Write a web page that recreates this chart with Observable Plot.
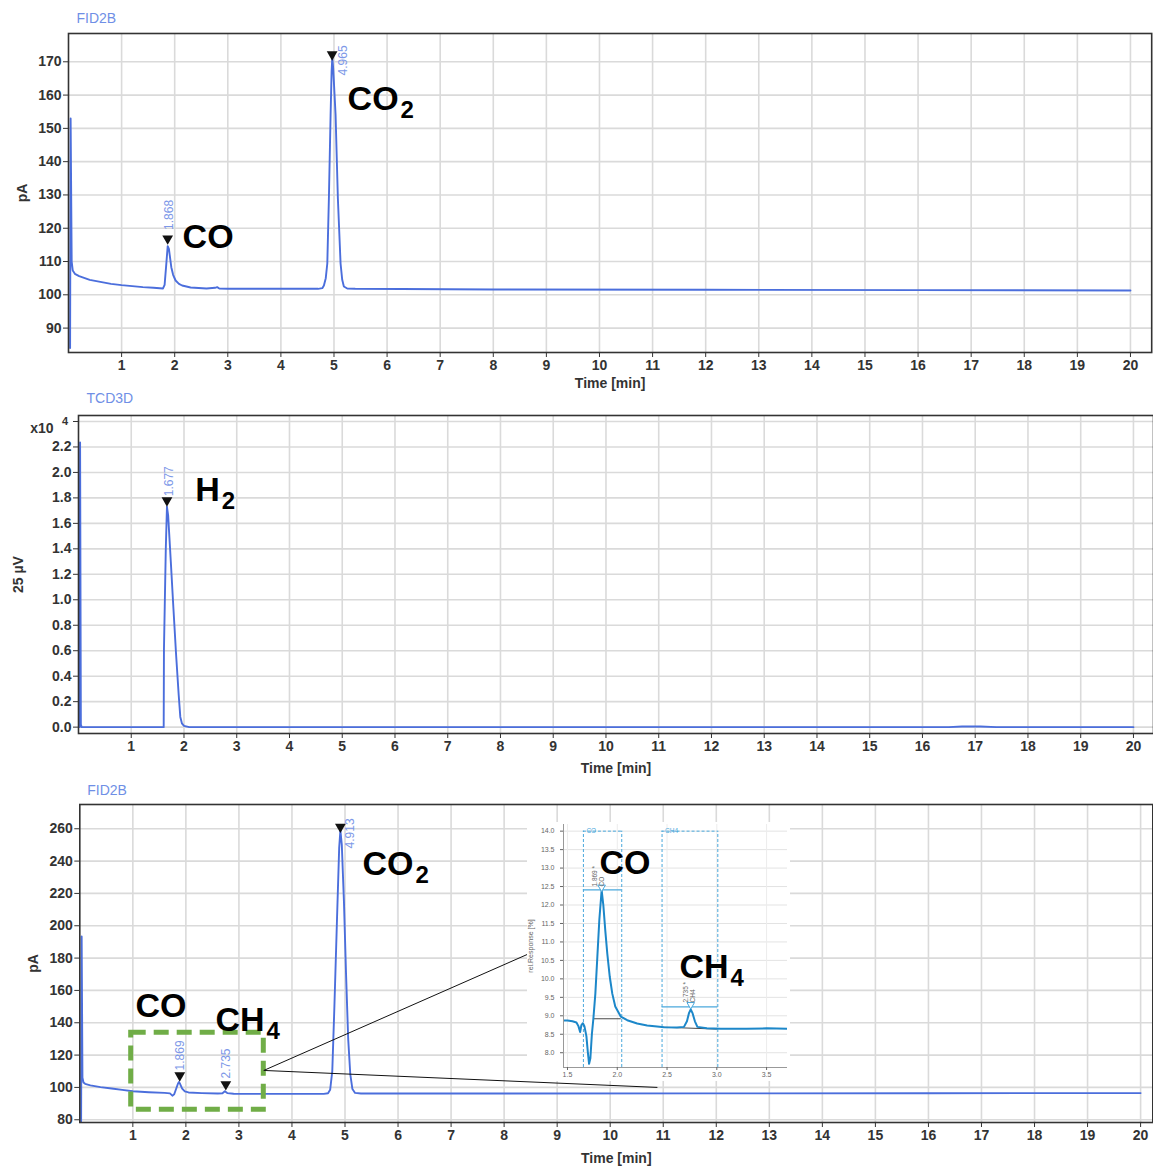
<!DOCTYPE html>
<html>
<head>
<meta charset="utf-8">
<script src="https://cdn.jsdelivr.net/npm/d3@7"></script>
<script src="https://cdn.jsdelivr.net/npm/@observablehq/plot@0.6"></script>
<style>
  body { margin: 0; background: #fff; }
  #wrap { position: relative; width: 1153px; height: 1166px; background: #fff; overflow: hidden;
          font-family: "Liberation Sans", Arial, sans-serif; }
  .panel { position: absolute; left: 0; overflow: hidden; }
  .panel svg { display: block; }
</style>
</head>
<body>
<div id="wrap"></div>
<script>
// ---------------- DATA ----------------
// common time ticks (min)
const timeTicks = [1,2,3,4,5,6,7,8,9,10,11,12,13,14,15,16,17,18,19,20];

// Panel 1 : FID2B (first run)
const fid1Ticks = [90,100,110,120,130,140,150,160,170];
const fid1Time   = [0.03,0.04,0.06,0.08,0.12,0.2,0.4,0.6,0.8,1.0,1.2,1.4,1.6,1.78,1.81,1.842,1.868,1.891,1.936,1.97,2.017,2.08,2.14,2.3,2.6,2.76,2.8,2.84,3.0,4.0,4.7,4.78,4.81,4.845,4.874,4.904,4.936,4.955,4.968,4.985,5.03,5.073,5.124,5.155,5.186,5.25,5.4,8,12,16,20];
const fid1Signal = [84,153,110,107.3,106.3,105.6,104.5,103.9,103.3,102.9,102.6,102.3,102.1,101.9,103,109.3,114.6,113.8,108.3,106,104.3,103.3,102.8,102.2,101.9,102.1,102.3,101.9,101.8,101.8,101.8,102,102.8,105,109.4,129,154,167,171.3,168,154,129,109.4,104.5,102.5,101.9,101.8,101.6,101.5,101.4,101.3];
const fid1PeakTimes  = [1.868, 4.965];
const fid1PeakTops   = [116.9, 172.2];
const fid1PeakLabels = ["1.868", "4.965"];
const fid1LabelX     = [1.904, 5.181];
const fid1LabelY     = [119.5, 165.9];
const fid1Names = ["CO", "CO"];
const fid1Subs  = ["", "2"];
const fid1NameX = [2.149, 5.256];
const fid1NameY = [114.2, 155.4];

// Panel 2 : TCD3D (x10^4, 25 µV)
const tcdTicks = [0,0.2,0.4,0.6,0.8,1.0,1.2,1.4,1.6,1.8,2.0,2.2,2.4];
const tcdTime   = [0.02,0.03,0.045,0.06,1.0,1.615,1.62,1.635,1.655,1.677,1.70,1.75,1.80,1.85,1.90,1.93,1.96,2.0,2.1,16.5,16.75,17.1,17.4,20];
const tcdSignal = [0,2.235,0.02,0,0,0,0.61,0.95,1.4,1.73,1.66,1.30,0.93,0.57,0.25,0.08,0.03,0.01,0,0,0.005,0.005,0,0];
const tcdPeakTimes  = [1.677];
const tcdPeakTops   = [1.78];
const tcdPeakLabels = ["1.677"];
const tcdLabelX     = [1.725];
const tcdLabelY     = [1.813];
const tcdNames = ["H"];
const tcdSubs  = ["2"];
const tcdNameX = [2.213];
const tcdNameY = [1.773];

// Panel 3 : FID2B (second run)
const fid2Ticks = [80,100,120,140,160,180,200,220,240,260];
const fid2Time   = [0.025,0.035,0.05,0.07,0.1,0.2,0.39,0.6,0.8,1.0,1.3,1.6,1.7,1.745,1.78,1.82,1.85,1.869,1.89,1.93,1.98,2.05,2.3,2.6,2.69,2.735,2.78,2.9,3.2,4.6,4.68,4.72,4.76,4.80,4.85,4.89,4.913,4.94,4.98,5.02,5.06,5.10,5.14,5.19,5.3,8,12,16,20];
const fid2Signal = [79,193.4,106,103,102.2,101.3,100.2,99.3,98.5,97.6,97.0,96.6,96.3,94.9,95.8,99.5,102.3,103.3,102.2,99.3,97.6,96.9,96.5,96.2,96.4,97.6,96.5,96.1,96.0,96.0,96.4,98.5,110,150,205,248,259,250,215,170,130,108,99,96.6,96.2,96.2,96.3,96.4,96.5];
const fid2PeakTimes  = [1.885, 2.753, 4.913];
const fid2PeakTops   = [107.4, 101.9, 261.2];
const fid2PeakLabels = ["1.869", "2.735", "4.913"];
const fid2LabelX     = [1.899, 2.766, 5.104];
const fid2LabelY     = [110.5, 105.5, 247.8];
const fid2Names = ["CO", "CH", "CO"];
const fid2Subs  = ["", "4", "2"];
const fid2NameX = [1.05, 2.558, 5.33];
const fid2NameY = [143.3, 135.2, 231.7];
// zoom box and connector lines (panel 3 data units)
const zoomBoxX = [0.969, 3.469];
const zoomBoxY = [86.2, 133.8];
const zoomLinkFromX = [3.469, 3.469];
const zoomLinkFromY = [110.5, 110.5];
const zoomLinkToX   = [8.44, 10.89];
const zoomLinkToY   = [182.3, 100.0];

// Inset : rel. Response [%]
const insetXTicks = [1.5,2.0,2.5,3.0,3.5];
const insetYTicks = [8.0,8.5,9.0,9.5,10.0,10.5,11.0,11.5,12.0,12.5,13.0,13.5,14.0];
const insetTime = [1.46,1.50,1.55,1.59,1.61,1.627,1.64,1.655,1.67,1.69,1.705,1.717,1.73,1.745,1.76,1.78,1.80,1.82,1.843,1.86,1.88,1.90,1.925,1.95,1.98,2.035,2.1,2.2,2.3,2.4,2.47,2.6,2.67,2.70,2.72,2.738,2.755,2.78,2.805,2.9,3.04,3.3,3.5,3.71];
const insetResponse = [8.87,8.87,8.85,8.82,8.72,8.56,8.75,8.80,8.72,8.45,8.0,7.70,7.85,8.5,8.92,9.6,10.6,11.6,12.40,12.0,11.3,10.68,10.05,9.6,9.25,8.98,8.88,8.79,8.74,8.71,8.69,8.68,8.70,8.85,9.07,9.17,9.08,8.85,8.70,8.66,8.65,8.65,8.66,8.65];
const insetRegionNames = ["CO", "CH4"];
const insetRegionStart = [1.66, 2.45];
const insetRegionEnd   = [2.045, 3.01];
const insetRegionLevel = [12.41, 9.24];
const insetRegionTop   = 14.0;
const insetPeakTimes  = [1.843, 2.738];
const insetPeakTops   = [12.48, 9.30];
const insetPeakLabels = ["1.869 *\nCO", "2.735 *\nCH4"];
const insetLabelX = [1.811, 2.725];
const insetLabelY = [12.50, 9.36];
const insetBaseX1 = [1.76, 2.47];
const insetBaseY1 = [8.92, 8.69];
const insetBaseX2 = [2.035, 3.0];
const insetBaseY2 = [8.92, 8.64];
const insetNames = ["CO", "CH"];
const insetSubs  = ["", "4"];
const insetNameX = [1.821, 2.625];
const insetNameY = [12.85, 10.01];

// ---------------- HELPERS ----------------
const BLUE = "#4b6edc";
const RT_BLUE = "#7d98e8";
const TITLE_BLUE = "#6f8fe6";
const CYAN = "#1c87c9";
const CYAN_D = "#4aa8dc";
const GRID = "#dadada";
const FONT = "'Liberation Sans', Arial, sans-serif";

const ctx = document.createElement("canvas").getContext("2d");
function textWidth(s, font) { ctx.font = font; return ctx.measureText(s).width; }

function series(ts, vs) { return ts.map((t, i) => ({t, v: vs[i]})); }

function compoundMarks(names, subs, xs, ys) {
  const marks = [];
  names.forEach((name, i) => {
    const d = {t: xs[i], v: ys[i], name, sub: subs[i]};
    marks.push(Plot.text([d], {x: "t", y: "v", text: "name", textAnchor: "start", lineAnchor: "bottom",
      fontSize: 34, fontWeight: "bold", fill: "#000", fontFamily: FONT}));
    if (d.sub) {
      marks.push(Plot.text([d], {x: "t", y: "v", text: "sub", textAnchor: "start", lineAnchor: "bottom",
        fontSize: 24, fontWeight: "bold", fill: "#000", fontFamily: FONT,
        dx: textWidth(name, "bold 34px 'Liberation Sans'") + 2, dy: 8}));
    }
  });
  return marks;
}

function peakMarks(times, tops, labels, lx, ly, opts = {}) {
  const peaks = times.map((t, i) => ({t, v: tops[i]}));
  const labs = labels.map((s, i) => ({t: lx[i], v: ly[i], s}));
  return [
    Plot.dot(peaks, {x: "t", y: "v", symbol: "triangle", rotate: 180, r: opts.r ?? 4,
      fill: opts.fill ?? "#111", stroke: opts.stroke ?? "none", strokeWidth: 1}),
    Plot.text(labs, {x: "t", y: "v", text: "s", rotate: -90, textAnchor: "start", lineAnchor: "middle",
      fontSize: opts.fontSize ?? 12, fill: opts.color ?? RT_BLUE, fontFamily: FONT})
  ];
}

function titleMark(txt, dx, dy) {
  return Plot.text([txt], {frameAnchor: "top-left", text: d => d, dx, dy, textAnchor: "start",
    lineAnchor: "middle", fontSize: 14, fill: TITLE_BLUE, fontFamily: FONT});
}

const baseStyle = {fontFamily: FONT, fontSize: "14px", color: "#333", background: "transparent"};

function addPanel(node, top, height, extraStyle = "") {
  const div = document.createElement("div");
  div.className = "panel";
  div.style.top = top + "px";
  div.style.height = height + "px";
  div.style.cssText += extraStyle;
  div.appendChild(node);
  document.getElementById("wrap").appendChild(div);
  return div;
}

// ---------------- PANEL 1 ----------------
const p1 = Plot.plot({
  width: 1153, height: 392,
  marginTop: 33, marginBottom: 40, marginLeft: 68, marginRight: 1.8,
  x: {domain: [0, 20.4]},
  y: {domain: [82.67, 178.5]},
  style: baseStyle,
  marks: [
    Plot.gridX({ticks: timeTicks, stroke: GRID, strokeOpacity: 1, strokeWidth: 1.6}),
    Plot.gridY({ticks: fid1Ticks, stroke: GRID, strokeOpacity: 1, strokeWidth: 1.6}),
    Plot.line(series(fid1Time, fid1Signal), {x: "t", y: "v", stroke: BLUE, strokeWidth: 1.9, clip: true}),
    Plot.frame({stroke: "#333", strokeWidth: 1.6}),
    Plot.axisX({ticks: timeTicks, tickSize: 5, tickPadding: 3, fontWeight: "bold", label: "Time [min]", labelAnchor: "center", labelOffset: 35, labelArrow: "none"}),
    Plot.axisY({ticks: fid1Ticks, tickSize: 5, tickPadding: 2, fontWeight: "bold", label: "pA", labelAnchor: "center", labelOffset: 51, labelArrow: "none"}),
    ...peakMarks(fid1PeakTimes, fid1PeakTops, fid1PeakLabels, fid1LabelX, fid1LabelY),
    ...compoundMarks(fid1Names, fid1Subs, fid1NameX, fid1NameY),
    titleMark("FID2B", 8, -15)
  ]
});
addPanel(p1, 0, 392);

// ---------------- PANEL 2 ----------------
const p2 = Plot.plot({
  width: 1153, height: 391,
  marginTop: 28, marginBottom: 45, marginLeft: 78, marginRight: 0,
  x: {domain: [0, 20.38]},
  y: {domain: [-0.05, 2.447]},
  style: baseStyle,
  marks: [
    Plot.gridX({ticks: timeTicks, stroke: GRID, strokeOpacity: 1, strokeWidth: 1.6}),
    Plot.gridY({ticks: tcdTicks, stroke: GRID, strokeOpacity: 1, strokeWidth: 1.6}),
    Plot.line(series(tcdTime, tcdSignal), {x: "t", y: "v", stroke: BLUE, strokeWidth: 1.9, clip: true}),
    Plot.frame({stroke: "#333", strokeWidth: 1.6}),
    Plot.axisX({ticks: timeTicks, tickSize: 5, tickPadding: 3, fontWeight: "bold", label: "Time [min]", labelAnchor: "center", labelOffset: 39, labelArrow: "none"}),
    Plot.axisY({ticks: tcdTicks, tickSize: 5, tickPadding: 2, fontWeight: "bold", tickFormat: d => d > 2.3 ? "" : d.toFixed(1),
      label: "25 µV", labelAnchor: "center", labelOffset: 65, labelArrow: "none"}),
    Plot.text(["x10"], {frameAnchor: "top-left", text: d => d, dx: -25, dy: 13, textAnchor: "end", lineAnchor: "middle", fontSize: 14, fontWeight: "bold", fill: "#333"}),
    Plot.text(["4"], {frameAnchor: "top-left", text: d => d, dx: -16.5, dy: 6, textAnchor: "start", lineAnchor: "middle", fontSize: 11, fontWeight: "bold", fill: "#333"}),
    ...peakMarks(tcdPeakTimes, tcdPeakTops, tcdPeakLabels, tcdLabelX, tcdLabelY),
    ...compoundMarks(tcdNames, tcdSubs, tcdNameX, tcdNameY),
    titleMark("TCD3D", 8, -17)
  ]
});
addPanel(p2, 387, 391);

// ---------------- PANEL 3 ----------------
const p3 = Plot.plot({
  width: 1153, height: 388,
  marginTop: 26, marginBottom: 44, marginLeft: 79.3, marginRight: 0.7,
  x: {domain: [0, 20.23]},
  y: {domain: [78.3, 275]},
  style: baseStyle,
  marks: [
    Plot.gridX({ticks: timeTicks, stroke: GRID, strokeOpacity: 1, strokeWidth: 1.6}),
    Plot.gridY({ticks: fid2Ticks, stroke: GRID, strokeOpacity: 1, strokeWidth: 1.6}),
    Plot.line(series(fid2Time, fid2Signal), {x: "t", y: "v", stroke: BLUE, strokeWidth: 1.9, clip: true}),
    Plot.frame({stroke: "#333", strokeWidth: 1.6}),
    Plot.axisX({ticks: timeTicks, tickSize: 5, tickPadding: 3, fontWeight: "bold", label: "Time [min]", labelAnchor: "center", labelOffset: 40, labelArrow: "none"}),
    Plot.axisY({ticks: fid2Ticks, tickSize: 5, tickPadding: 2, fontWeight: "bold", label: "pA", labelAnchor: "center", labelOffset: 52, labelArrow: "none"}),
    Plot.rect([{x1: zoomBoxX[0], x2: zoomBoxX[1], y1: zoomBoxY[0], y2: zoomBoxY[1]}],
      {x1: "x1", x2: "x2", y1: "y1", y2: "y2", fill: "none", stroke: "#70ad47", strokeWidth: 5, strokeDasharray: "15,8"}),
    Plot.link(zoomLinkFromX.map((x, i) => ({x1: x, y1: zoomLinkFromY[i], x2: zoomLinkToX[i], y2: zoomLinkToY[i]})),
      {x1: "x1", y1: "y1", x2: "x2", y2: "y2", stroke: "#111", strokeWidth: 1}),
    ...peakMarks(fid2PeakTimes, fid2PeakTops, fid2PeakLabels, fid2LabelX, fid2LabelY),
    ...compoundMarks(fid2Names, fid2Subs, fid2NameX, fid2NameY),
    titleMark("FID2B", 7.4, -14)
  ]
});
addPanel(p3, 778, 388);

// ---------------- INSET ----------------
const regions = insetRegionNames.map((name, i) => ({name, start: insetRegionStart[i], end: insetRegionEnd[i], level: insetRegionLevel[i]}));
const pIn = Plot.plot({
  width: 263, height: 259,
  marginTop: 2, marginBottom: 14, marginLeft: 36, marginRight: 3,
  x: {domain: [1.46, 3.71]},
  y: {domain: [7.6, 14.18]},
  style: {fontFamily: FONT, fontSize: "7px", color: "#666", background: "#fff"},
  marks: [
    Plot.gridY({ticks: insetYTicks, stroke: "#e3e3e3", strokeOpacity: 1, strokeWidth: 1}),
    Plot.gridX({ticks: insetXTicks, stroke: "#ececec", strokeOpacity: 1, strokeWidth: 1}),
    Plot.ruleX(regions.flatMap(r => [r.start, r.end]), {y1: () => 7.6, y2: () => insetRegionTop, stroke: CYAN_D, strokeWidth: 1, strokeDasharray: "3,2"}),
    Plot.ruleY(regions, {y: () => insetRegionTop, x1: "start", x2: "end", stroke: CYAN_D, strokeWidth: 1, strokeDasharray: "3,2"}),
    Plot.text(regions, {x: "start", y: () => insetRegionTop, text: "name", dx: 3, textAnchor: "start", lineAnchor: "middle", fontSize: 6.5, fill: CYAN_D}),
    Plot.ruleY(regions, {y: "level", x1: "start", x2: "end", stroke: CYAN_D, strokeWidth: 1.3}),
    Plot.link(insetBaseX1.map((x, i) => ({x1: x, y1: insetBaseY1[i], x2: insetBaseX2[i], y2: insetBaseY2[i]})),
      {x1: "x1", y1: "y1", x2: "x2", y2: "y2", stroke: "#333", strokeWidth: 0.9}),
    Plot.line(series(insetTime, insetResponse), {x: "t", y: "v", stroke: CYAN, strokeWidth: 2, clip: true}),
    Plot.ruleX([1.46], {stroke: "#999", strokeWidth: 1}),
    Plot.ruleY([7.6], {stroke: "#999", strokeWidth: 1}),
    Plot.axisX({ticks: insetXTicks, tickFormat: d => d.toFixed(1), tickSize: 3, tickPadding: 2, fontSize: 7, label: null}),
    Plot.axisY({ticks: insetYTicks, tickFormat: d => d.toFixed(1), tickSize: 3, tickPadding: 6, fontSize: 7,
      label: "rel.Response [%]", labelAnchor: "center", labelOffset: 35, labelArrow: "none"}),
    ...peakMarks(insetPeakTimes, insetPeakTops, insetPeakLabels, insetLabelX, insetLabelY,
      {r: 2.8, fill: "#fff", stroke: CYAN_D, fontSize: 6.5, color: "#666"}),
    ...compoundMarks(insetNames, insetSubs, insetNameX, insetNameY)
  ]
});
addPanel(pIn, 822, 259, "left:527px;width:263px;background:#fff;");
</script>
</body>
</html>
